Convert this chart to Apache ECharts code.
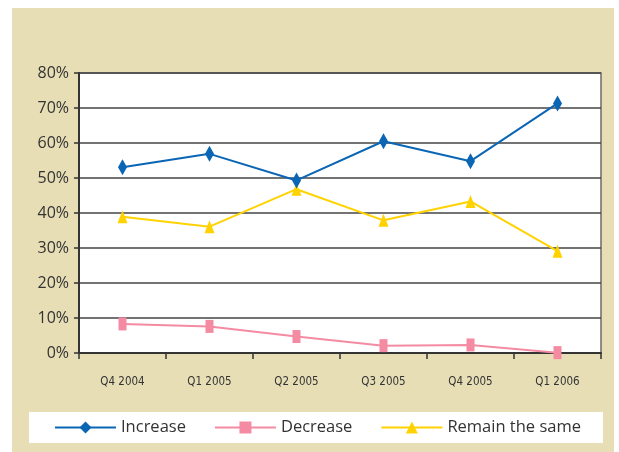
<!DOCTYPE html>
<html>
<head>
<meta charset="utf-8">
<script src="https://cdn.jsdelivr.net/npm/echarts@6/dist/echarts.min.js"></script>
<style>
  html, body { margin: 0; padding: 0; background: #ffffff; }
  #chart { width: 619px; height: 452px; }
</style>
</head>
<body>
<div id="chart"></div>
<script>
// Quarterly survey shares (percent of respondents)
const quarters = ['Q4 2004', 'Q1 2005', 'Q2 2005', 'Q3 2005', 'Q4 2005', 'Q1 2006'];
const increase = [53.1, 56.9, 49.3, 60.5, 54.8, 71.3];
const decrease = [8.3, 7.6, 4.7, 2.1, 2.3, 0.1];
const remainSame = [38.9, 36.1, 46.8, 37.9, 43.3, 29.1];
const yTicks = [0, 10, 20, 30, 40, 50, 60, 70, 80];

const chart = echarts.init(document.getElementById('chart'), null, { renderer: 'canvas' });

const textColor = '#333333';

chart.setOption({
  backgroundColor: '#ffffff',
  animation: false,
  graphic: [
    {
      type: 'rect',
      z: -10,
      shape: { x: 12, y: 8, width: 602, height: 444 },
      style: { fill: '#E7DEB6' }
    },
    {
      type: 'rect',
      z: -5,
      shape: { x: 29, y: 412, width: 574, height: 31 },
      style: { fill: '#ffffff' }
    }
  ],
  grid: {
    left: 79, top: 73, right: 18, bottom: 99,
    show: true,
    backgroundColor: '#ffffff',
    borderColor: '#6b6b6b',
    borderWidth: 1.5
  },
  legend: {
    left: 54,
    top: 419,
    padding: 0,
    itemWidth: 61,
    itemHeight: 15,
    itemGap: 28,
    textStyle: { fontFamily: 'Open Sans', fontSize: 16.5, color: textColor },
    data: ['Increase', 'Decrease', 'Remain the same']
  },
  xAxis: {
    type: 'category',
    data: quarters,
    boundaryGap: true,
    axisLine: { lineStyle: { color: '#333333', width: 2 } },
    axisTick: { show: true, alignWithLabel: false, length: 6, inside: false, lineStyle: { color: '#333333', width: 1.5 } },
    axisLabel: {
      margin: 23,
      fontFamily: "'DejaVu Sans Condensed', 'Liberation Sans Narrow', Roboto, sans-serif",
      fontSize: 11.5,
      color: textColor
    }
  },
  yAxis: {
    type: 'value',
    min: 0,
    max: 80,
    interval: 10,
    axisLine: { show: true, lineStyle: { color: '#333333', width: 2 } },
    axisTick: { show: true, length: 5, lineStyle: { color: '#333333', width: 1.5 } },
    splitLine: { show: true, lineStyle: { color: '#444444', width: 1.5 } },
    axisLabel: {
      margin: 10,
      fontFamily: 'Open Sans',
      fontSize: 16,
      color: textColor,
      customValues: yTicks,
      formatter: v => v + '%'
    }
  },
  series: [
    {
      name: 'Increase',
      type: 'line',
      data: increase,
      symbol: 'diamond',
      symbolSize: [9, 16],
      lineStyle: { color: '#0A66B4', width: 2 },
      itemStyle: { color: '#0A66B4' },
      z: 3
    },
    {
      name: 'Decrease',
      type: 'line',
      data: decrease,
      symbol: 'rect',
      symbolSize: [8, 13],
      lineStyle: { color: '#F48BA2', width: 2 },
      itemStyle: { color: '#F48BA2' },
      z: 2
    },
    {
      name: 'Remain the same',
      type: 'line',
      data: remainSame,
      symbol: 'triangle',
      symbolSize: [10, 13],
      lineStyle: { color: '#FFD200', width: 2 },
      itemStyle: { color: '#FFD200' },
      z: 2
    }
  ]
});
</script>
</body>
</html>
